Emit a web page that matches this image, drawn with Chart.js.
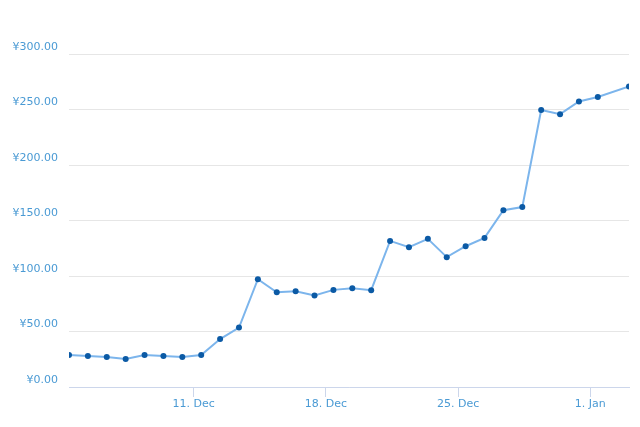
<!DOCTYPE html>
<html>
<head>
<meta charset="utf-8">
<script src="https://cdn.jsdelivr.net/npm/chart.js@4.4.1/dist/chart.umd.min.js"></script>
<style>
  html, body { margin: 0; padding: 0; background: #ffffff; }
  #wrap { position: relative; width: 640px; height: 427px; }
</style>
</head>
<body>
<div id="wrap"><canvas id="c" width="640" height="427"></canvas></div>
<script>
// Day positions (days counted from 0 Dec; 32 = 1 Jan)
const days = [4.4, 5.4, 6.4, 7.4, 8.4, 9.4, 10.4, 11.4, 12.4, 13.4,
              14.4, 15.4, 16.4, 17.4, 18.4, 19.4, 20.4, 21.4, 22.4, 23.4,
              24.4, 25.4, 26.4, 27.4, 28.4, 29.4, 30.4, 31.4, 32.4, 34.05];
const prices = [28.8, 27.9, 27.0, 25.2, 28.8, 27.9, 27.0, 28.8, 43.2, 53.6,
                97.1, 85.4, 86.3, 82.4, 87.5, 89.0, 87.2, 131.6, 125.9, 133.5,
                117.0, 126.8, 134.3, 159.2, 162.1, 249.6, 245.8, 257.2, 261.3, 270.7];
const xTickValues = [11, 18, 25, 32];
const xTickLabels = ['11. Dec', '18. Dec', '25. Dec', '1. Jan'];
const yTickValues = [0, 50, 100, 150, 200, 250, 300];

const labelColor = '#4a9ad4';
const points = days.map((d, i) => ({ x: d, y: prices[i] }));

new Chart(document.getElementById('c'), {
  type: 'line',
  data: {
    datasets: [{
      data: points,
      borderColor: '#7cb5ec',
      borderWidth: 2,
      pointBackgroundColor: '#0b5aa5',
      pointBorderColor: '#0b5aa5',
      pointBorderWidth: 0,
      pointRadius: 3,
      tension: 0
    }]
  },
  options: {
    responsive: false,
    animation: false,
    layout: { padding: { left: 0, right: 11, top: 54, bottom: 0 } },
    plugins: { legend: { display: false }, tooltip: { enabled: false } },
    scales: {
      x: {
        type: 'linear',
        min: days[0],
        max: days[days.length - 1],
        afterBuildTicks: (s) => { s.ticks = xTickValues.map(v => ({ value: v })); },
        afterFit: (s) => { s.height = 40; },
        grid: { display: true, drawOnChartArea: false, drawTicks: true, tickLength: 10, tickColor: '#ccd6eb', lineWidth: 1 },
        border: { display: true, color: '#ccd6eb', width: 1 },
        ticks: {
          color: labelColor,
          font: { family: 'DejaVu Sans', size: 11 },
          padding: 1,
          maxRotation: 0,
          autoSkip: false,
          callback: (v) => { const i = xTickValues.indexOf(v); return i >= 0 ? xTickLabels[i] : ''; }
        }
      },
      y: {
        type: 'linear',
        min: 0,
        max: 300,
        afterBuildTicks: (s) => { s.ticks = yTickValues.map(v => ({ value: v })); },
        afterFit: (s) => { s.width = 69; },
        grid: { color: '#e6e6e6', lineWidth: 1, drawTicks: false },
        border: { display: false },
        ticks: {
          color: labelColor,
          font: { family: 'DejaVu Sans', size: 11 },
          padding: 11,
          labelOffset: -7,
          callback: (v) => '¥' + Number(v).toFixed(2)
        }
      }
    }
  }
});
</script>
</body>
</html>
